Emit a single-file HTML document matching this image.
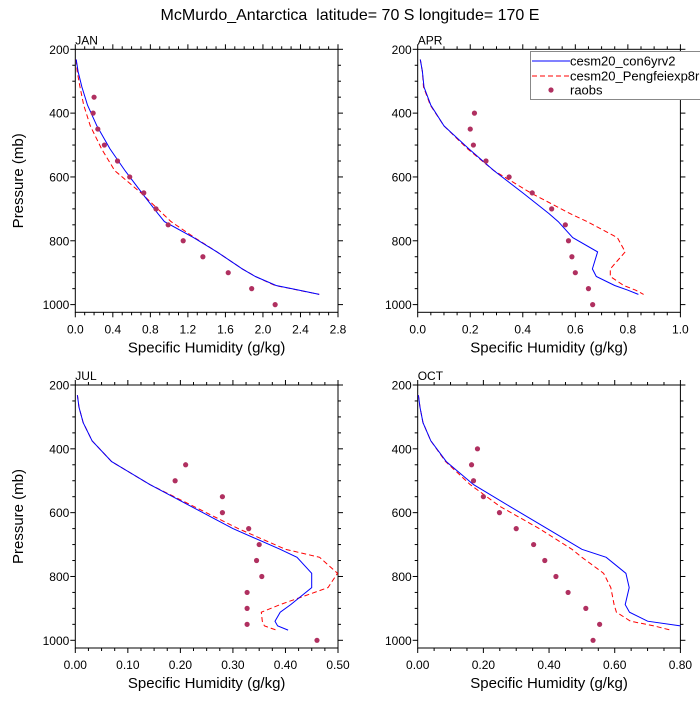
<!DOCTYPE html>
<html><head><meta charset="utf-8"><style>
body{margin:0;background:#fff}
svg{font-family:"Liberation Sans",sans-serif}
</style></head><body>
<svg id="c" width="700" height="700" viewBox="0 0 700 700">
<text x="350" y="20" text-anchor="middle" font-size="16" style="white-space:pre">McMurdo_Antarctica  latitude= 70 S longitude= 170 E</text>
</svg>
<script>
const levels=[232,270,318,375,440,512,580,650,715,740,790,835,888,912,940,955,968];
const obsP=[350,400,450,500,550,600,650,700,750,800,850,900,950,1000];
const janCon=[0.01,0.03,0.07,0.13,0.23,0.37,0.53,0.71,0.88,0.95,1.26,1.51,1.78,1.92,2.14,2.39,2.6];
const janExp=[0.01,0.02,0.05,0.09,0.16,0.28,0.42,0.70,0.93,1.02,1.27,1.51,1.78,1.92,2.13,2.38,2.6];
const janObs=[0.20,0.19,0.24,0.31,0.45,0.58,0.73,0.86,0.99,1.15,1.36,1.63,1.88,2.13];
const aprCon=[0.01,0.018,0.024,0.05,0.10,0.195,0.29,0.40,0.50,0.535,0.59,0.685,0.665,0.68,0.75,0.80,0.84];
const aprExp=[0.01,0.018,0.022,0.048,0.10,0.19,0.29,0.43,0.58,0.645,0.76,0.79,0.733,0.733,0.784,0.83,0.86];
const aprObs=[null,0.216,0.20,0.212,0.26,0.348,0.436,0.51,0.562,0.574,0.587,0.60,0.65,0.666];
const julCon=[0.004,0.007,0.015,0.032,0.069,0.142,0.22,0.30,0.39,0.422,0.45,0.45,0.41,0.39,0.38,0.385,0.405];
const julExp=[0.004,0.007,0.015,0.032,0.069,0.142,0.225,0.31,0.40,0.465,0.499,0.481,0.39,0.354,0.356,0.36,0.383];
const julObs=[null,null,0.21,0.19,0.28,0.28,0.33,0.35,0.345,0.355,0.327,0.327,0.327,0.46];
const octCon=[0.002,0.007,0.016,0.04,0.087,0.17,0.28,0.394,0.50,0.574,0.634,0.644,0.632,0.645,0.70,0.80,null];
const octExp=[0.002,0.007,0.016,0.04,0.085,0.16,0.25,0.37,0.47,0.50,0.566,0.588,0.598,0.605,0.648,0.72,0.77];
const octObs=[null,0.182,0.164,0.17,0.20,0.249,0.30,0.353,0.387,0.421,0.458,0.512,0.554,0.534];
const pTicks=[200,400,600,800,1000];
const janX=["0.0","0.4","0.8","1.2","1.6","2.0","2.4","2.8"];
const aprX=["0.0","0.2","0.4","0.6","0.8","1.0"];
const julX=["0.00","0.10","0.20","0.30","0.40","0.50"];
const octX=["0.00","0.20","0.40","0.60","0.80"];

const NS="http://www.w3.org/2000/svg";
const svg=document.getElementById('c');
function mk(t,a,p){const e=document.createElementNS(NS,t);for(const k in a)e.setAttribute(k,a[k]);(p||svg).appendChild(e);return e;}

function panel(name,L,T,xt,xmax,minorN,con,exp,obs,showY){
  const R=L+262.7, B=T+263, y1000=T+255.3;
  const g=mk('g',{});
  
  
  const X=v=>L+v/xmax*(R-L);
  const Y=p=>T+(p-200)/800*(y1000-T);
  const fr=mk('rect',{x:L,y:T,width:R-L,height:B-T,fill:'none',stroke:'#000','stroke-width':1},g);
  
  
  for(let p=200;p<=1000;p+=50){
    const maj=p%200===0, len=maj?5:3, y=Y(p);
    mk('line',{x1:L-len,x2:L,y1:y,y2:y,stroke:'#000'},g);
    mk('line',{x1:R,x2:R+len,y1:y,y2:y,stroke:'#000'},g);
  }
  pTicks.forEach(p=>{
    const t=mk('text',{x:L-6,y:Y(p)+4.5,'text-anchor':'end','font-size':12},g);
    
    
    t.textContent=p;
  });
  const step=xmax/(xt.length-1), mstep=step/(minorN+1);
  for(let i=0;i<=(xt.length-1)*(minorN+1);i++){
    const v=i*mstep, maj=i%(minorN+1)===0, len=maj?5:3, x=X(v);
    mk('line',{x1:x,x2:x,y1:B,y2:B+len,stroke:'#000'},g);
    mk('line',{x1:x,x2:x,y1:T-len,y2:T,stroke:'#000'},g);
  }
  xt.forEach((s,i)=>{
    const t=mk('text',{x:X(i*step),y:B+21,'text-anchor':'middle','font-size':12},g);
    
    
    t.textContent=s;
  });
  const lb=mk('text',{x:L,y:T-5,'font-size':12},g);
  
  
  lb.textContent=name.toUpperCase();
  const xl=mk('text',{x:(L+R)/2,y:B+40,'text-anchor':'middle','font-size':15},g);
  
  
  xl.textContent='Specific Humidity (g/kg)';
  if(showY){
    const yl=mk('text',{x:0,y:0,'text-anchor':'middle','font-size':15,transform:`translate(23,${(T+B)/2}) rotate(-90)`},g);
    
    
    yl.textContent='Pressure (mb)';
  }
  function line(arr,col,dash,nm){
    const pts=[];arr.forEach((v,i)=>{if(v!=null)pts.push(X(v).toFixed(1)+','+Y(levels[i]).toFixed(1));});
    const a={points:pts.join(' '),fill:'none',stroke:col,'stroke-width':1};
    if(dash)a['stroke-dasharray']=dash;
    const e=mk('polyline',a,g);
    
    
  }
  line(exp,'#ff0000','5,3',name+'-pengfei-line');
  line(con,'#0000ff',null,name+'-con6yrv2-line');
  obs.forEach((v,i)=>{
    if(v==null)return;
    const c=mk('circle',{cx:X(v),cy:Y(obsP[i]),r:2.6,fill:'#b03060'},g);
    
    
  });
}
panel('jan',75.3,49.3,janX,2.8,3,janCon,janExp,janObs,true);
panel('apr',417.7,49.3,aprX,1.0,3,aprCon,aprExp,aprObs,false);
panel('jul',75.3,385,julX,0.5,3,julCon,julExp,julObs,true);
panel('oct',417.7,385,octX,0.8,3,octCon,octExp,octObs,false);

const lg=mk('g',{});


mk('rect',{x:530.5,y:51.5,width:180,height:48,fill:'#fff',stroke:'#888'},lg);
const ents=[['cesm20_con6yrv2','#0000ff',null,61],['cesm20_Pengfeiexp8rr','#ff0000','5,3',76]];
ents.forEach(e=>{
  const l=mk('line',{x1:532,x2:570,y1:e[3],y2:e[3],stroke:e[1],'stroke-width':1},lg);
  if(e[2])l.setAttribute('stroke-dasharray',e[2]);
  
  
  const t=mk('text',{x:570,y:e[3]+4.5,'font-size':13},lg);
  
  
  t.textContent=e[0];
});
const dc=mk('circle',{cx:551,cy:90,r:2.6,fill:'#b03060'},lg);


const rt=mk('text',{x:570,y:94.5,'font-size':13},lg);


rt.textContent='raobs';
</script>
</body></html>
